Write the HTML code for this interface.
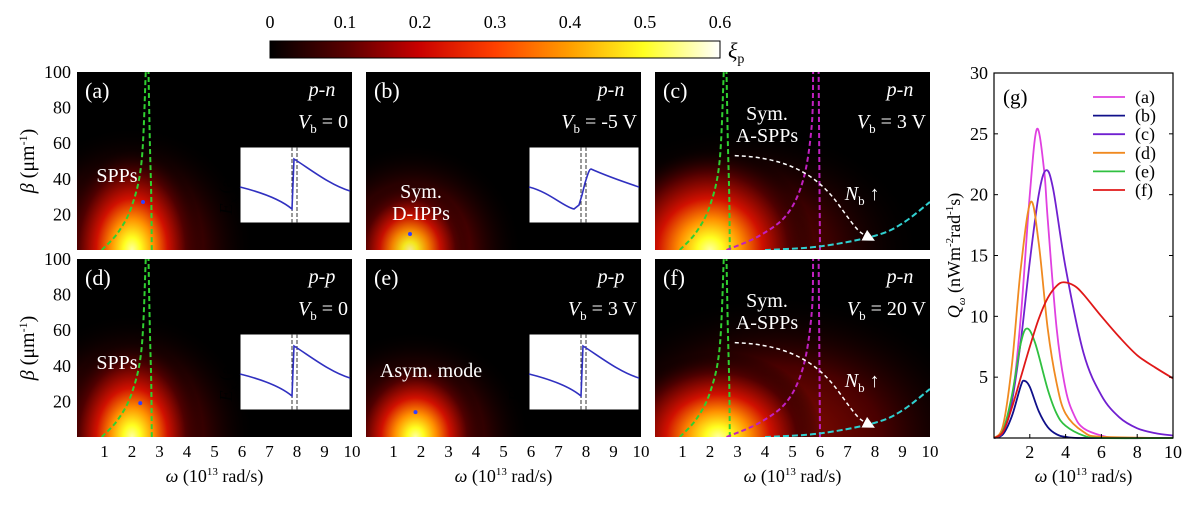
<!DOCTYPE html>
<html><head><meta charset="utf-8">
<style>
html,body{margin:0;padding:0;background:#fff;width:1200px;height:515px;overflow:hidden;}
svg{display:block;font-family:"Liberation Serif",serif;}
</style></head>
<body>
<svg id="fig" width="1200" height="515" viewBox="0 0 1200 515" xmlns="http://www.w3.org/2000/svg">
<defs>
<linearGradient id="cbgrad" x1="0" x2="1" y1="0" y2="0">
<stop offset="0" stop-color="#000"/>
<stop offset="0.17" stop-color="#5a0000"/>
<stop offset="0.33" stop-color="#c80000"/>
<stop offset="0.5" stop-color="#ff4000"/>
<stop offset="0.67" stop-color="#ffa000"/>
<stop offset="0.83" stop-color="#ffff20"/>
<stop offset="1" stop-color="#ffffff"/>
</linearGradient>
<radialGradient id="hot" cx="0.5" cy="0.5" r="0.5">
<stop offset="0" stop-color="#ffffa0"/>
<stop offset="0.12" stop-color="#ffff20"/>
<stop offset="0.3" stop-color="#ff9000"/>
<stop offset="0.5" stop-color="#d01000"/>
<stop offset="0.75" stop-color="#500000"/>
<stop offset="1" stop-color="#000" stop-opacity="0"/>
</radialGradient>
<radialGradient id="warm" cx="0.5" cy="0.5" r="0.5">
<stop offset="0" stop-color="#c01000"/>
<stop offset="0.5" stop-color="#600000"/>
<stop offset="1" stop-color="#000" stop-opacity="0"/>
</radialGradient>
<marker id="arrow" markerWidth="8" markerHeight="8" refX="6" refY="4" orient="auto"><path d="M0,0 L8,4 L0,8 Z" fill="#fff"/></marker>
</defs>
<g id="colorbar">
<rect x="270" y="41" width="450" height="17" fill="url(#cbgrad)" stroke="#000" stroke-width="1"/>
</g>
<g id="panels"></g>
<g id="gplot"></g>
</svg>
<script>
// ---------- Panel (g) data ----------
const gLabels = ['(a)','(b)','(c)','(d)','(e)','(f)'];
const gColors = ['#e040e0','#10108a','#7020d0','#f08a20','#30c040','#e01818'];
const omegaA = [0,0.5,1,1.5,2,2.4,2.8,3,3.5,4,4.5,5,6,7,10];
const qA     = [0,0.5,3,10,20,25.4,22,18,9,4,1.8,0.8,0.2,0,0];
const omegaB = [0,0.5,1,1.5,1.7,2,2.5,3,3.5,4,5,10];
const qB     = [0,0.3,1.8,4.3,4.7,4.2,2.2,0.9,0.3,0.1,0,0];
const omegaC = [0,0.5,1,1.5,2,2.5,2.9,3.3,4,5,6,7,8,9,10];
const qC     = [0,0.5,3,8,14.5,20,22,20.5,14,7,3.5,1.7,0.8,0.4,0.2];
const omegaD = [0,0.5,1,1.5,2.05,2.5,3,3.5,4,5,6,10];
const qD     = [0,1,6,14,19.4,16,9,4.5,2,0.5,0.1,0];
const omegaE = [0,0.5,1,1.5,1.85,2.3,3,3.5,4,5,6,10];
const qE     = [0,0.6,3.5,7.8,9,7.8,4,2,1,0.2,0,0];
const omegaF = [0,0.5,1,1.5,2,2.5,3,3.5,3.9,4.5,5,6,7,8,9,10];
const qF     = [0,0.5,2.5,5,7.5,9.8,11.5,12.5,12.8,12.5,11.8,10,8.3,6.8,5.8,4.9];
const gX = [omegaA,omegaB,omegaC,omegaD,omegaE,omegaF];
const gY = [qA,qB,qC,qD,qE,qF];
const gXTicks = [2,4,6,8,10];
const gYTicks = [5,10,15,20,25,30];
const cbTicks = [0,0.1,0.2,0.3,0.4,0.5,0.6];
const hmXTicks = [1,2,3,4,5,6,7,8,9,10];
const hmYTicks = [20,40,60,80,100];

const NS='http://www.w3.org/2000/svg';
function mk(tag, attrs, parent){const e=document.createElementNS(NS,tag);for(const k in attrs)e.setAttribute(k,attrs[k]);if(parent)parent.appendChild(e);return e;}
const svg=document.getElementById('fig');

const cb=document.getElementById('colorbar');
cbTicks.forEach(v=>{const t=mk('text',{x:270+v/0.6*450,y:28,'font-size':18,'text-anchor':'middle',fill:'#000'},cb);t.textContent=v===0?'0':String(v);

});
const xi=mk('text',{x:728,y:58,'font-size':22,'font-style':'italic',fill:'#000'},cb);xi.innerHTML='ξ<tspan font-size="14" font-style="normal" dy="5">p</tspan>';



function catmull(pts){let d='M'+pts[0][0]+','+pts[0][1];for(let i=0;i<pts.length-1;i++){const p0=pts[i-1]||pts[i],p1=pts[i],p2=pts[i+1],p3=pts[i+2]||p2;
d+=' C'+(p1[0]+(p2[0]-p0[0])/6)+','+(p1[1]+(p2[1]-p0[1])/6)+' '+(p2[0]-(p3[0]-p1[0])/6)+','+(p2[1]-(p3[1]-p1[1])/6)+' '+p2[0]+','+p2[1];}return d;}

const panelIds=['a','b','c','d','e','f'];
const panelLeft=[77,366,655,77,366,655];
const panelTop=[72,72,72,259,259,259];
const PW=275, PH=178;
const modeText=['p-n','p-n','p-n','p-p','p-p','p-n'];
const vbText=['0','-5 V','3 V','0','3 V','20 V'];
// hotspots: [omega, beta, rOmega, rBeta, opacity, type]
const hotspots=[
 [[2.0,0,4.5,70,0.8,'warm'],[2.0,0,2.6,58,1,'hot']],
 [[1.7,0,4,60,0.8,'warm'],[1.6,0,2.2,38,0.9,'hot']],
 [[3.2,0,6.5,70,0.6,'warm'],[2.0,0,3.8,58,1,'hot']],
 [[2.0,0,4.5,70,0.8,'warm'],[2.0,0,2.6,55,1,'hot']],
 [[1.8,0,4.2,60,0.8,'warm'],[1.8,0,2.5,44,1,'hot']],
 [[4.5,0,7.5,80,0.75,'warm'],[2.3,0,3.8,48,1,'hot']]
];
const pg=document.getElementById('panels');
panelIds.forEach((id,i)=>{
 const L=panelLeft[i],T=panelTop[i];
 const sx=w=>L+w/10*PW, sy=b=>T+PH-b/100*PH;
 const g=mk('g',{},pg);
 
 
 mk('clipPath',{id:'clip'+id},g).appendChild(mk('rect',{x:L,y:T,width:PW,height:PH}));
 mk('rect',{x:L,y:T,width:PW,height:PH,fill:'#000'},g);
 const hg=mk('g',{'clip-path':'url(#clip'+id+')'},g);
 hotspots[i].forEach(h=>{const e=mk('ellipse',{cx:sx(h[0]),cy:sy(h[1]),rx:h[2]/10*PW,ry:h[3]/100*PH,fill:'url(#'+h[5]+')',opacity:h[4]},hg);
  
  });
 if(id==='a'||id==='c'||id==='d'||id==='f'){
  const l=[[0.9,0],[1.5,10],[2.0,25],[2.35,50],[2.5,100]].map(p=>[sx(p[0]),sy(p[1])]);
  const r=[[2.72,0],[2.7,30],[2.65,60],[2.6,100]].map(p=>[sx(p[0]),sy(p[1])]);
  [l,r].forEach(p=>{const c=mk('path',{d:catmull(p),fill:'none',stroke:'#30d030','stroke-width':2,'stroke-dasharray':'5,3'},hg);
   
   });
 }
 if(id==='c'||id==='f'){
  const m1=[[2.6,0],[3.8,8],[4.8,20],[5.4,40],[5.7,70],[5.75,100]].map(p=>[sx(p[0]),sy(p[1])]);
  const m2=[[6.0,0],[5.98,40],[5.95,100]].map(p=>[sx(p[0]),sy(p[1])]);
  [m1,m2].forEach(p=>{const c=mk('path',{d:catmull(p),fill:'none',stroke:'#c020c0','stroke-width':2,'stroke-dasharray':'5,3'},hg);
   
   });
  const cy=[[4,0],[6,2],[8,8],[9,15],[10,27]].map(p=>[sx(p[0]),sy(p[1])]);
  const c=mk('path',{d:catmull(cy),fill:'none',stroke:'#30d0d0','stroke-width':2,'stroke-dasharray':'6,3'},hg);
  
  
  const ar=mk('path',{d:'M'+sx(2.9)+','+sy(53)+' C'+sx(5)+','+sy(52)+' '+sx(6)+','+sy(40)+' '+sx(6.7)+','+sy(25)+' S'+sx(7.4)+','+sy(10)+' '+sx(7.9)+','+sy(6),fill:'none',stroke:'#fff','stroke-width':1.5,'stroke-dasharray':'4,3','marker-end':'url(#arrow)'},hg);
  
  
  const nb=mk('text',{x:sx(6.9),y:sy(28),'font-size':20,fill:'#fff'},g);nb.innerHTML='<tspan font-style="italic">N</tspan><tspan font-size="13" dy="5">b</tspan><tspan dy="-5"> ↑</tspan>';
  
  
 }
 if(id==='a'||id==='b'||id==='d'||id==='e'){
  const ix=L+163, iy=T+75, iw=110, ih=76;
  const ins=mk('g',{},g);
  
  
  mk('rect',{x:ix,y:iy,width:iw,height:ih,fill:'#fff',stroke:'#000','stroke-width':1},ins);
  mk('line',{x1:ix+52,y1:iy,x2:ix+52,y2:iy+ih,stroke:'#333','stroke-dasharray':'4,2'},ins);
  mk('line',{x1:ix+57,y1:iy,x2:ix+57,y2:iy+ih,stroke:'#333','stroke-dasharray':'4,2'},ins);
  const d=id==='b'?'M0,40 C20,45 35,60 45,62 L50,58 L53,48 L56,36 C58,30 60,22 62,22 C80,30 95,35 110,40':'M0,40 C20,45 40,52 52,62 L54,12 C70,22 90,38 110,44';
  mk('path',{d:d,transform:'translate('+ix+','+iy+')',fill:'none',stroke:'#3030c0','stroke-width':1.6},ins);
  const et=mk('text',{x:0,y:0,'font-size':18,fill:'#000',transform:'translate('+(ix-8)+','+(iy+ih/2)+') rotate(-90)','text-anchor':'middle'},ins);
  et.innerHTML='<tspan font-style="italic">E</tspan><tspan font-size="12" dy="5" font-style="italic">x</tspan><tspan dy="-5"> (a.u.)</tspan>';
 }
 if(id!=='c'&&id!=='f'){const dotx=[2.4,1.6,0,2.3,1.8][i],doty=[27,9,0,19,14][i];mk('circle',{cx:sx(dotx),cy:sy(doty),r:2,fill:'#3040ff'},hg);}
 const lab=mk('text',{x:L+8,y:T+26,'font-size':22,fill:'#fff'},g);lab.textContent='('+id+')';
 
 
 const mt=mk('text',{x:L+PW-30,y:T+24,'font-size':20,'font-style':'italic',fill:'#fff','text-anchor':'middle'},g);mt.textContent=modeText[i];
 
 
 const vt=mk('text',{x:L+PW-4,y:T+56,'font-size':20,fill:'#fff','text-anchor':'end'},g);vt.innerHTML='<tspan font-style="italic">V</tspan><tspan font-size="13" dy="5">b</tspan><tspan dy="-5"> = '+vbText[i]+'</tspan>';
 
 
 const annot={a:[['SPPs',L+40,T+110]],d:[['SPPs',L+40,T+110]],b:[['Sym.',L+55,T+126],['D-IPPs',L+55,T+148]],e:[['Asym. mode',L+65,T+118]],c:[['Sym.',L+112,T+48],['A-SPPs',L+112,T+70]],f:[['Sym.',L+112,T+48],['A-SPPs',L+112,T+70]]}[id];
 annot.forEach(a=>{const t=mk('text',{x:a[1],y:a[2],'font-size':20,fill:'#fff','text-anchor':'middle'},g);t.textContent=a[0];
  
  });
 if(i>=3){hmXTicks.forEach(v=>{const t=mk('text',{x:sx(v),y:T+PH+20,'font-size':17,'text-anchor':'middle',fill:'#000'},g);t.textContent=v;
  
  });
  const xt=mk('text',{x:L+PW/2,y:482,'font-size':18,'text-anchor':'middle',fill:'#000'},g);xt.innerHTML='<tspan font-style="italic">ω</tspan> (10<tspan font-size="11" dy="-7">13</tspan><tspan dy="7"> rad/s)</tspan>';
  
  }
 if(i%3===0){hmYTicks.forEach(v=>{const t=mk('text',{x:L-6,y:sy(v)+6,'font-size':18,'text-anchor':'end',fill:'#000'},g);t.textContent=v;
  
  });
  const yt=mk('text',{x:0,y:0,'font-size':20,'text-anchor':'middle',fill:'#000',transform:'translate(34,'+(T+PH/2)+') rotate(-90)'},g);yt.innerHTML='<tspan font-style="italic">β</tspan> (μm<tspan font-size="12" dy="-7">-1</tspan><tspan dy="7">)</tspan>';
  
  }
});

const GL=994,GR=1173,GT=73,GB=438;
const gxs=v=>GL+v/10*(GR-GL), gys=v=>GB-v/30*(GB-GT);
const gg=document.getElementById('gplot');


gX.forEach((xs,s)=>{const pts=xs.map((x,k)=>[gxs(x),gys(gY[s][k])]);
 const p=mk('path',{d:catmull(pts),fill:'none',stroke:gColors[s],'stroke-width':1.8},gg);
 
 });
mk('rect',{x:GL,y:GT,width:GR-GL,height:GB-GT,fill:'none',stroke:'#000','stroke-width':1.2},gg);
gXTicks.forEach(v=>{mk('line',{x1:gxs(v),x2:gxs(v),y1:GB,y2:GB-4,stroke:'#000'},gg);
 const t=mk('text',{x:gxs(v),y:GB+20,'font-size':18,'text-anchor':'middle',fill:'#000'},gg);t.textContent=v;
 
 });
gYTicks.forEach(v=>{mk('line',{x1:GL,x2:GL+4,y1:gys(v),y2:gys(v),stroke:'#000'},gg);mk('line',{x1:GR,x2:GR-4,y1:gys(v),y2:gys(v),stroke:'#000'},gg);
 const t=mk('text',{x:GL-6,y:gys(v)+6,'font-size':18,'text-anchor':'end',fill:'#000'},gg);t.textContent=v;
 
 });
const gxt=mk('text',{x:(GL+GR)/2,y:482,'font-size':18,'text-anchor':'middle',fill:'#000'},gg);gxt.innerHTML='<tspan font-style="italic">ω</tspan> (10<tspan font-size="11" dy="-7">13</tspan><tspan dy="7"> rad/s)</tspan>';


const gyt=mk('text',{x:0,y:0,'font-size':18,'text-anchor':'middle',fill:'#000',transform:'translate(960,'+((GT+GB)/2)+') rotate(-90)'},gg);
gyt.innerHTML='<tspan font-style="italic">Q</tspan><tspan font-size="11" dy="5" font-style="italic">ω</tspan><tspan dy="-5"> (nWm</tspan><tspan font-size="11" dy="-7">-2</tspan><tspan dy="7">rad</tspan><tspan font-size="11" dy="-7">-1</tspan><tspan dy="7">s)</tspan>';


const gl=mk('text',{x:1003,y:104,'font-size':21,fill:'#000'},gg);gl.textContent='(g)';


gLabels.forEach((lb,s)=>{const y=97+s*18.6;
 const le=mk('g',{},gg);
 
 
 mk('line',{x1:1093,x2:1125,y1:y,y2:y,stroke:gColors[s],'stroke-width':1.8},le);
 const t=mk('text',{x:1135,y:y+6,'font-size':18,fill:'#000'},le);t.textContent=lb;});
</script>
</body></html>
